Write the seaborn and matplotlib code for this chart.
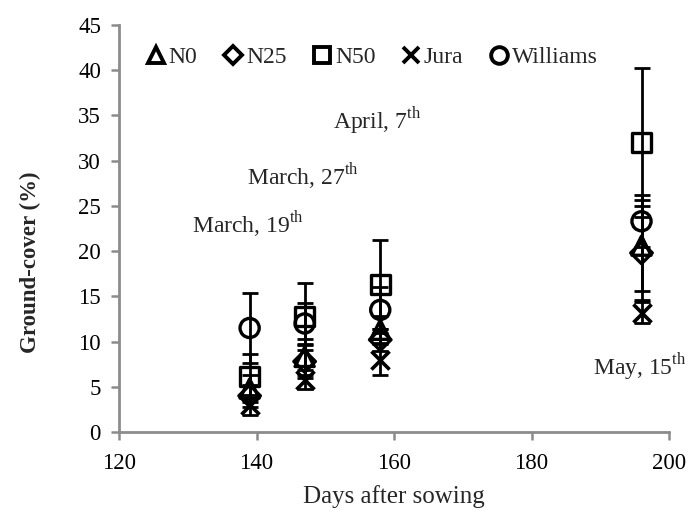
import matplotlib
matplotlib.use("Agg")
import matplotlib.pyplot as plt
from matplotlib.lines import Line2D
import seaborn as sns
import pandas as pd

# ---- data ----
days = [139, 147, 158, 196]
series_names = ["N0", "N25", "N50", "Jura", "Williams"]
n0 = [4.8, 8.3, 11.3, 20.6]
n0_err = [1.5, 2.0, 1.5, 5.0]
n25 = [4.0, 7.8, 10.2, 19.8]
n25_err = [1.2, 1.8, 1.2, 5.2]
n50 = [6.1, 12.8, 16.3, 32.0]
n50_err = [2.5, 3.7, 4.9, 8.2]
jura = [3.0, 5.8, 8.0, 13.2]
jura_err = [1.1, 1.0, 1.7, 1.2]
williams = [11.5, 12.0, 13.5, 23.3]
williams_err = [3.9, 2.3, 2.5, 2.9]
x_ticks = [120, 140, 160, 180, 200]
y_ticks = [0, 5, 10, 15, 20, 25, 30, 35, 40, 45]
dates = ["March, 19", "March, 27", "April, 7", "May, 15"]

values = [n0, n25, n50, jura, williams]
errors = [n0_err, n25_err, n50_err, jura_err, williams_err]
markers = ["^", "D", "s", "x", "o"]

rows = []
for name, v, e in zip(series_names, values, errors):
    for d, vv, ee in zip(days, v, e):
        rows.append({"day": d, "cover": vv, "err": ee, "series": name})
df = pd.DataFrame(rows)

sns.set_theme(style="white")
plt.rcParams["font.family"] = ["Liberation Serif", "DejaVu Serif"]
plt.rcParams["mathtext.fontset"] = "custom"
plt.rcParams["mathtext.rm"] = "Liberation Serif"

fig = plt.figure(figsize=(6.98, 5.14), dpi=100)
ax = fig.add_axes([119 / 698, 1 - 432 / 514, 550 / 698, 407 / 514])

for name, mk in zip(series_names, markers):
    sub = df[df["series"] == name]
    ax.errorbar(sub["day"], sub["cover"], yerr=sub["err"], fmt="none",
                ecolor="black", elinewidth=2.0, capsize=5.5, capthick=2.0, zorder=2)
    if mk == "x":
        sns.scatterplot(data=sub, x="day", y="cover", marker="x", s=170,
                        color="black", linewidth=2.6, ax=ax, legend=False, zorder=3)
    else:
        sz = 190 if mk != "D" else 120
        sns.scatterplot(data=sub, x="day", y="cover", marker=mk, s=sz,
                        facecolor="none", edgecolor="black", linewidth=2.4,
                        ax=ax, legend=False, zorder=3)

ax.set_xlim(120, 200)
ax.set_ylim(0, 45)
ax.set_xticks(x_ticks)
ax.set_yticks(y_ticks)
ax.tick_params(axis="both", direction="out", length=6, width=1.8, color="#8c8c8c",
               labelsize=16.5, labelcolor="black", bottom=True, left=True)
ax.tick_params(axis="y", pad=7)
ax.tick_params(axis="x", pad=9)
for side in ["top", "right"]:
    ax.spines[side].set_visible(False)
for side in ["left", "bottom"]:
    ax.spines[side].set_color("#8c8c8c")
    ax.spines[side].set_linewidth(2.0)
ax.set_xlabel("")
ax.set_ylabel("")

fig.text(394 / 698, 1 - 497 / 514, "Days after sowing", ha="center", va="center", fontsize=18)
fig.text(30 / 698, 1 - 262 / 514, "Ground-cover (%)", ha="center", va="center",
         fontsize=16.5, fontweight="bold", rotation=90)

# date annotations
ann_pos = [(130.6, 22.9), (138.6, 28.2), (151.1, 34.4), (188.9, 7.2)]
for txt, (xx, yy) in zip(dates, ann_pos):
    ax.text(xx, yy, txt + r"$^{\mathrm{th}}$", fontsize=17, ha="left", va="center")

handles = [Line2D([], [], marker=mk, linestyle="none", markersize=12 if mk != "D" else 9.5,
                  markerfacecolor="none", markeredgecolor="black",
                  markeredgewidth=2.8, color="black") for mk in markers]
leg = ax.legend(handles, series_names, ncol=5, frameon=False, fontsize=17,
                loc="center", bbox_to_anchor=(372 / 698, 1 - 57 / 514),
                bbox_transform=fig.transFigure, handlelength=0.8, handletextpad=0.15,
                columnspacing=1.1, borderpad=0)

fig.savefig("out.png", dpi=100)
